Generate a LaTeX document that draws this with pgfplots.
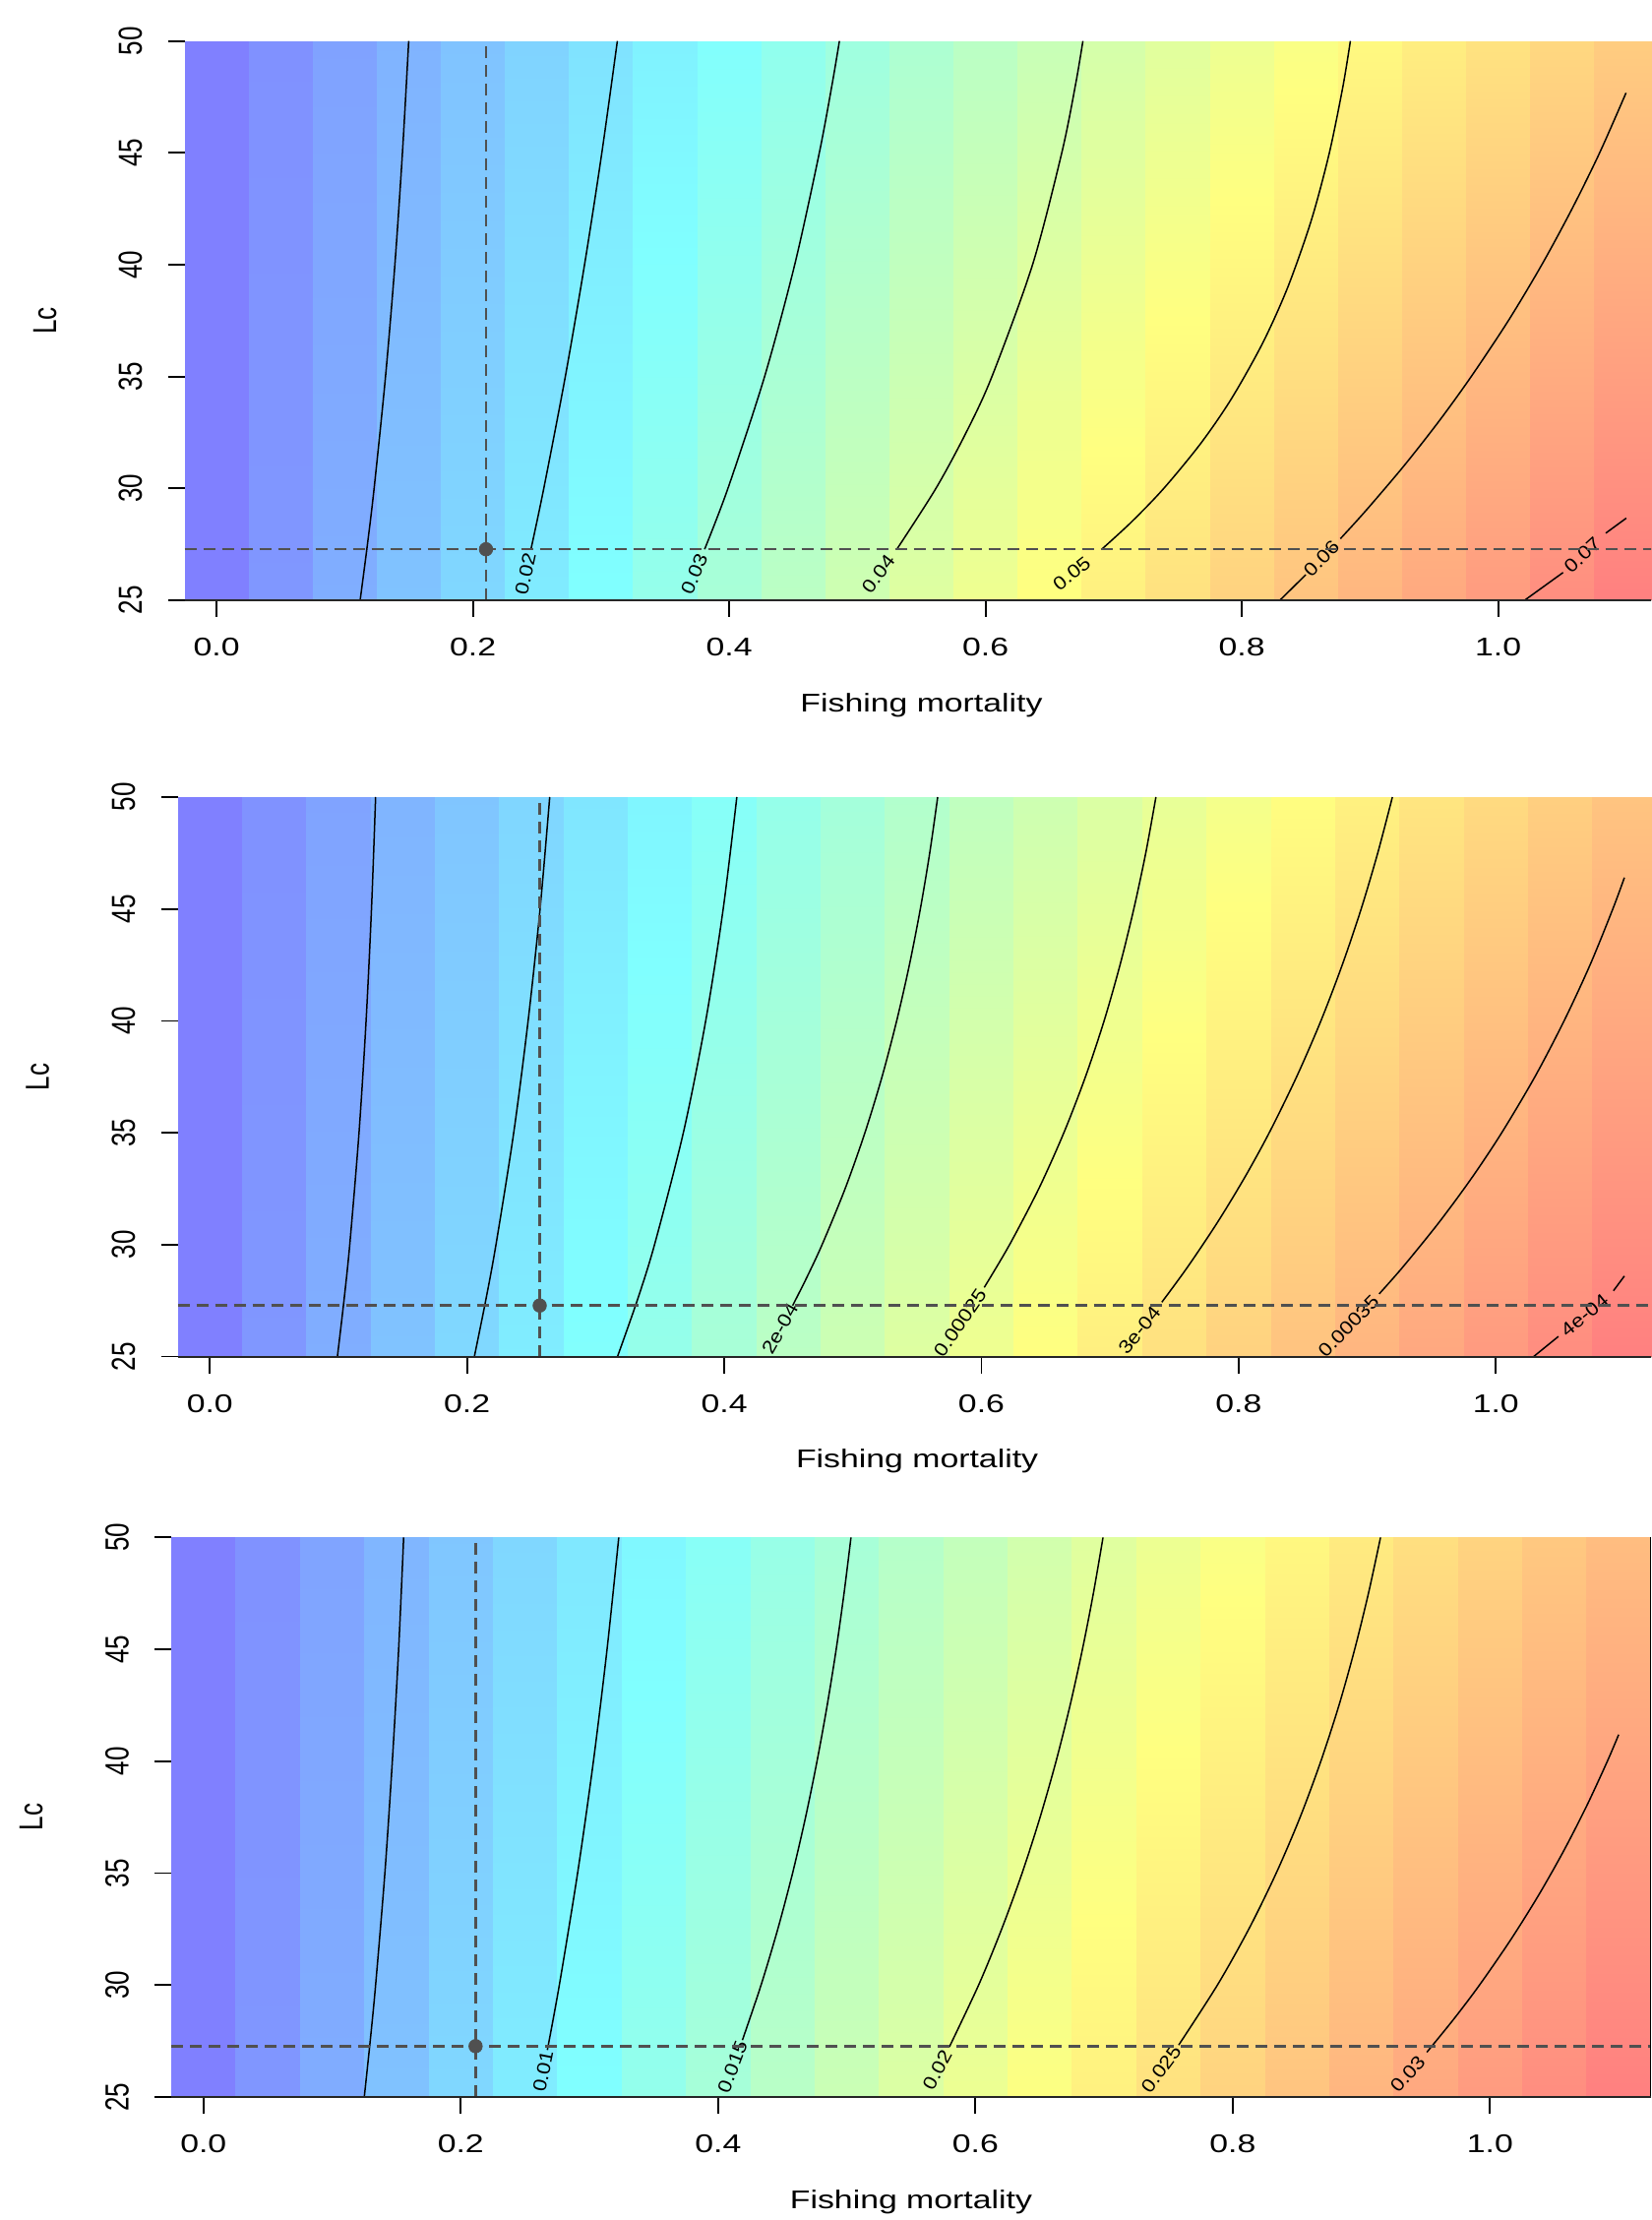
\documentclass[border=0pt]{standalone}
\usepackage{fontspec}
\setmainfont{Liberation Sans}
\newfontfamily\hfont[FakeStretch=1.3]{Liberation Sans}
\newfontfamily\vfont[FakeStretch=0.77]{Liberation Sans}
\newfontfamily\cfont[FakeStretch=1.15]{Liberation Sans}
\usepackage{pgfplots}
\pgfplotsset{compat=1.18}
\definecolor{dg}{HTML}{505050}
\tikzset{clabnode/.style={pos=0.5, sloped, inner sep=0pt, font=\cfont\fontsize{9.5}{9.5}\selectfont}}
\pgfplotsset{
 panel/.style={
  scale only axis, anchor=south west,
  xmin=-0.025, xmax=1.125, ymin=25, ymax=50,
  axis on top,
  axis x line*=bottom, axis y line*=left,
  y axis line style={draw=none},
  x axis line style={line width=1pt, black!85},
  tick align=outside, major tick length=8.5pt,
  tick style={black, line width=0.9pt},
  xtick={0,0.2,0.4,0.6,0.8,1.0},
  xticklabels={0.0,0.2,0.4,0.6,0.8,1.0},
  ytick={25,30,35,40,45,50},
  yticklabels={25,30,35,40,45,50},
  xticklabel style={font=\hfont\fontsize{13}{13}\selectfont, anchor=center, inner sep=0pt, yshift=-15.3pt},
  yticklabel style={font=\vfont\fontsize{16.9}{17}\selectfont, xshift=-19pt, rotate=90, anchor=center, inner sep=0pt},
  xlabel={Fishing mortality},
  xlabel style={font=\hfont\fontsize{13}{15}\selectfont, at={(axis description cs:0.5,-0.1876)}, anchor=center},
  ylabel={Lc},
  ylabel style={font=\vfont\fontsize{16.9}{17}\selectfont, at={(axis description cs:-0.0948,0.5)}, anchor=center},
  colormap={rcm}{rgb255=(128,128,255) rgb255=(128,255,255) rgb255=(255,255,128) rgb255=(255,128,128)},
 },
 heat/.style={surf, shader=interp, mesh/rows=2, mesh/cols=46, point meta=explicit, forget plot},
 cline/.style={black, line width=0.75pt, smooth, tension=0.5, forget plot},
 clab/.style={draw=none, forget plot},
 dline/.style={dg, line width=1.3pt, dash pattern=on 6pt off 3.5pt, forget plot},
 dot/.style={only marks, mark=*, mark size=3.4pt, dg, forget plot},
}
\begin{document}
\begin{tikzpicture}
\useasboundingbox (0,0) rectangle (839pt,1128pt);
\clip (0,0) rectangle (839pt,1128pt);
% ---------------- Panel 1 ----------------
\begin{axis}[panel, at={(93.8pt,823pt)}, width=748.9pt, height=284.15pt,
  point meta min=0, point meta max=74.2]
\addplot[heat] coordinates {
(-0.025,25)[0] (0.025,25)[0]
(0.025,25)[4.46] (0.075,25)[4.46]
(0.075,25)[8.93] (0.125,25)[8.93]
(0.125,25)[13.02] (0.175,25)[13.02]
(0.175,25)[16.98] (0.225,25)[16.98]
(0.225,25)[20.95] (0.275,25)[20.95]
(0.275,25)[24.92] (0.325,25)[24.92]
(0.325,25)[28.89] (0.375,25)[28.89]
(0.375,25)[32.65] (0.425,25)[32.65]
(0.425,25)[36.32] (0.475,25)[36.32]
(0.475,25)[40.0] (0.525,25)[40.0]
(0.525,25)[43.2] (0.575,25)[43.2]
(0.575,25)[46.4] (0.625,25)[46.4]
(0.625,25)[49.6] (0.675,25)[49.6]
(0.675,25)[52.5] (0.725,25)[52.5]
(0.725,25)[55.4] (0.775,25)[55.4]
(0.775,25)[58.3] (0.825,25)[58.3]
(0.825,25)[61.0] (0.875,25)[61.0]
(0.875,25)[63.7] (0.925,25)[63.7]
(0.925,25)[66.3] (0.975,25)[66.3]
(0.975,25)[68.9] (1.025,25)[68.9]
(1.025,25)[71.5] (1.075,25)[71.5]
(1.075,25)[74.2] (1.125,25)[74.2]

(-0.025,50)[0] (0.025,50)[0]
(0.025,50)[3.33] (0.075,50)[3.33]
(0.075,50)[6.65] (0.125,50)[6.65]
(0.125,50)[9.98] (0.175,50)[9.98]
(0.175,50)[13.06] (0.225,50)[13.06]
(0.225,50)[16.14] (0.275,50)[16.14]
(0.275,50)[19.22] (0.325,50)[19.22]
(0.325,50)[22.15] (0.375,50)[22.15]
(0.375,50)[25.04] (0.425,50)[25.04]
(0.425,50)[27.92] (0.475,50)[27.92]
(0.475,50)[30.74] (0.525,50)[30.74]
(0.525,50)[33.37] (0.575,50)[33.37]
(0.575,50)[36.0] (0.625,50)[36.0]
(0.625,50)[38.63] (0.675,50)[38.63]
(0.675,50)[41.15] (0.725,50)[41.15]
(0.725,50)[43.55] (0.775,50)[43.55]
(0.775,50)[45.94] (0.825,50)[45.94]
(0.825,50)[48.34] (0.875,50)[48.34]
(0.875,50)[50.66] (0.925,50)[50.66]
(0.925,50)[52.8] (0.975,50)[52.8]
(0.975,50)[54.95] (1.025,50)[54.95]
(1.025,50)[57.09] (1.075,50)[57.09]
(1.075,50)[59.24] (1.125,50)[59.24]
};
\addplot[cline] coordinates {(0.112,25) (0.1177,27.5) (0.1229,30) (0.1318,35) (0.1391,40) (0.1450,45) (0.1499,50)};
\addplot[cline] coordinates {(0.2453,27.28) (0.2553,30) (0.2721,35) (0.2871,40) (0.3006,45) (0.3127,50)};
\addplot[clab] coordinates {(0.2377,25.3) (0.2444,27.05)} node[clabnode] {0.02};
\addplot[cline] coordinates {(0.3808,27.28) (0.399,30) (0.4276,35) (0.4511,40) (0.4703,45) (0.4804,48.1) (0.486,50)};
\addplot[clab] coordinates {(0.3663,25.3) (0.3792,27.05)} node[clabnode] {0.03};
\addplot[cline] coordinates {(0.5308,27.28) (0.5613,30) (0.5849,32.5) (0.605,35) (0.6367,40) (0.6595,45) (0.6704,48.1) (0.676,50)};
\addplot[clab] coordinates {(0.5049,25.3) (0.5279,27.05)} node[clabnode] {0.04};
\addplot[cline] coordinates {(0.6907,27.28) (0.7139,28.5) (0.7391,30) (0.7678,32) (0.7918,34) (0.8163,36.5) (0.8359,39) (0.8543,42) (0.8683,45) (0.8790,48) (0.8847,50)};
\addplot[clab] coordinates {(0.6484,25.35) (0.686,27.05)} node[clabnode] {0.05};
\addplot[cline] coordinates {(0.8297,25) (0.8499,26.14)};
\addplot[clab] coordinates {(0.8499,26.14) (0.8743,27.59)} node[clabnode] {0.06};
\addplot[cline] coordinates {(0.8769,27.75) (0.8967,29) (0.9264,31) (0.9538,33) (0.979,35) (1.008,37.5) (1.0341,40) (1.0577,42.5) (1.0792,45) (1.0998,47.68)};
\addplot[cline] coordinates {(1.0207,25) (1.0507,26.24)};
\addplot[clab] coordinates {(1.0507,26.24) (1.0807,27.8)} node[clabnode] {0.07};
\addplot[cline] coordinates {(1.084,28.0) (1.1,28.67)};
\addplot[dline] coordinates {(0.2102,25) (0.2102,50)};
\addplot[dline] coordinates {(-0.025,27.28) (1.125,27.28)};
\addplot[dot] coordinates {(0.2102,27.28)};
\end{axis}
% ---------------- Panel 2 ----------------
\begin{axis}[panel, at={(90.3pt,438.7pt)}, width=751.5pt, height=284.3pt,
  point meta min=0, point meta max=4.196]
\addplot[heat] coordinates {
(-0.025,25)[0] (0.025,25)[0]
(0.025,25)[0.252] (0.075,25)[0.252]
(0.075,25)[0.504] (0.125,25)[0.504]
(0.125,25)[0.7385] (0.175,25)[0.7385]
(0.175,25)[0.973] (0.225,25)[0.973]
(0.225,25)[1.199] (0.275,25)[1.199]
(0.275,25)[1.4236] (0.325,25)[1.4236]
(0.325,25)[1.6375] (0.375,25)[1.6375]
(0.375,25)[1.8458] (0.425,25)[1.8458]
(0.425,25)[2.0504] (0.475,25)[2.0504]
(0.475,25)[2.2442] (0.525,25)[2.2442]
(0.525,25)[2.438] (0.575,25)[2.438]
(0.575,25)[2.6214] (0.625,25)[2.6214]
(0.625,25)[2.80] (0.675,25)[2.80]
(0.675,25)[2.9786] (0.725,25)[2.9786]
(0.725,25)[3.141] (0.775,25)[3.141]
(0.775,25)[3.301] (0.825,25)[3.301]
(0.825,25)[3.4615] (0.875,25)[3.4615]
(0.875,25)[3.6135] (0.925,25)[3.6135]
(0.925,25)[3.7628] (0.975,25)[3.7628]
(0.975,25)[3.9122] (1.025,25)[3.9122]
(1.025,25)[4.0572] (1.075,25)[4.0572]
(1.075,25)[4.1961] (1.125,25)[4.1961]

(-0.025,50)[0] (0.025,50)[0]
(0.025,50)[0.194] (0.075,50)[0.194]
(0.075,50)[0.388] (0.125,50)[0.388]
(0.125,50)[0.5779] (0.175,50)[0.5779]
(0.175,50)[0.7626] (0.225,50)[0.7626]
(0.225,50)[0.9472] (0.275,50)[0.9472]
(0.275,50)[1.1228] (0.325,50)[1.1228]
(0.325,50)[1.2947] (0.375,50)[1.2947]
(0.375,50)[1.4667] (0.425,50)[1.4667]
(0.425,50)[1.6289] (0.475,50)[1.6289]
(0.475,50)[1.7889] (0.525,50)[1.7889]
(0.525,50)[1.9488] (0.575,50)[1.9488]
(0.575,50)[2.1002] (0.625,50)[2.1002]
(0.625,50)[2.2475] (0.675,50)[2.2475]
(0.675,50)[2.3948] (0.725,50)[2.3948]
(0.725,50)[2.5389] (0.775,50)[2.5389]
(0.775,50)[2.6748] (0.825,50)[2.6748]
(0.825,50)[2.8108] (0.875,50)[2.8108]
(0.875,50)[2.9467] (0.925,50)[2.9467]
(0.925,50)[3.0749] (0.975,50)[3.0749]
(0.975,50)[3.198] (1.025,50)[3.198]
(1.025,50)[3.3212] (1.075,50)[3.3212]
(1.075,50)[3.4443] (1.125,50)[3.4443]
};
\addplot[cline] coordinates {(0.0992,25) (0.1043,27.5) (0.1088,30) (0.1160,35) (0.1215,40) (0.1257,45) (0.1289,50)};
\addplot[cline] coordinates {(0.2057,25) (0.2145,27.5) (0.2225,30) (0.2363,35) (0.2475,40) (0.2568,45) (0.2643,50)};
\addplot[cline] coordinates {(0.317,25) (0.3323,27.5) (0.3458,30) (0.3682,35) (0.3856,40) (0.3992,45) (0.4098,50)};
\addplot[cline] coordinates {(0.4532,27.28) (0.4639,28.5) (0.4761,30) (0.494,32.5) (0.5094,35) (0.5227,37.5) (0.5341,40) (0.544,42.5) (0.5525,45) (0.5598,47.5) (0.566,50)};
\addplot[clab] coordinates {(0.4356,25.45) (0.4511,27.05)} node[clabnode] {2e-04};
\addplot[cline] coordinates {(0.6022,28.09) (0.6219,30) (0.6446,32.5) (0.6641,35) (0.6809,37.5) (0.6954,40) (0.7078,42.5) (0.7185,45) (0.7278,47.5) (0.7357,50)};
\addplot[clab] coordinates {(0.5689,25.3) (0.5979,27.7)} node[clabnode] {0.00025};
\addplot[cline] coordinates {(0.7403,27.43) (0.7603,29) (0.7836,31) (0.8047,33) (0.8238,35) (0.8451,37.5) (0.864,40) (0.8806,42.5) (0.8953,45) (0.9082,47.5) (0.9196,50)};
\addplot[clab] coordinates {(0.7105,25.3) (0.7353,27.06)} node[clabnode] {3e-04};
\addplot[cline] coordinates {(0.9093,27.8) (0.9277,29) (0.9559,31) (0.9815,33) (1.0046,35) (1.0304,37.5) (1.0531,40) (1.0733,42.5) (1.091,45) (1.1,46.4)};
\addplot[clab] coordinates {(0.8674,25.3) (0.9035,27.43)} node[clabnode] {0.00035};
\addplot[cline] coordinates {(1.0294,25) (1.0487,25.9)};
\addplot[clab] coordinates {(1.0487,25.9) (1.0893,27.8)} node[clabnode] {4e-04};
\addplot[cline] coordinates {(1.0915,27.94) (1.1,28.6)};
\addplot[dline] coordinates {(0.2565,25) (0.2565,50)};
\addplot[dline] coordinates {(-0.025,27.28) (1.125,27.28)};
\addplot[dot] coordinates {(0.2565,27.28)};
\end{axis}
% ---------------- Panel 3 ----------------
\begin{axis}[panel, at={(87.05pt,62.5pt)}, width=751.85pt, height=284.3pt,
  point meta min=0, point meta max=34.286]
\addplot[heat] coordinates {
(-0.025,25)[0] (0.025,25)[0]
(0.025,25)[2.0] (0.075,25)[2.0]
(0.075,25)[4.0] (0.125,25)[4.0]
(0.125,25)[5.954] (0.175,25)[5.954]
(0.175,25)[7.863] (0.225,25)[7.863]
(0.225,25)[9.771] (0.275,25)[9.771]
(0.275,25)[11.507] (0.325,25)[11.507]
(0.325,25)[13.219] (0.375,25)[13.219]
(0.375,25)[14.932] (0.425,25)[14.932]
(0.425,25)[16.529] (0.475,25)[16.529]
(0.475,25)[18.121] (0.525,25)[18.121]
(0.525,25)[19.713] (0.575,25)[19.713]
(0.575,25)[21.213] (0.625,25)[21.213]
(0.625,25)[22.692] (0.675,25)[22.692]
(0.675,25)[24.172] (0.725,25)[24.172]
(0.725,25)[25.573] (0.775,25)[25.573]
(0.775,25)[26.875] (0.825,25)[26.875]
(0.825,25)[28.177] (0.875,25)[28.177]
(0.875,25)[29.479] (0.925,25)[29.479]
(0.925,25)[30.714] (0.975,25)[30.714]
(0.975,25)[31.905] (1.025,25)[31.905]
(1.025,25)[33.095] (1.075,25)[33.095]
(1.075,25)[34.286] (1.125,25)[34.286]

(-0.025,50)[0] (0.025,50)[0]
(0.025,50)[1.607] (0.075,50)[1.607]
(0.075,50)[3.213] (0.125,50)[3.213]
(0.125,50)[4.820] (0.175,50)[4.820]
(0.175,50)[6.328] (0.225,50)[6.328]
(0.225,50)[7.823] (0.275,50)[7.823]
(0.275,50)[9.318] (0.325,50)[9.318]
(0.325,50)[10.753] (0.375,50)[10.753]
(0.375,50)[12.139] (0.425,50)[12.139]
(0.425,50)[13.524] (0.475,50)[13.524]
(0.475,50)[14.909] (0.525,50)[14.909]
(0.525,50)[16.192] (0.575,50)[16.192]
(0.575,50)[17.468] (0.625,50)[17.468]
(0.625,50)[18.744] (0.675,50)[18.744]
(0.675,50)[20.019] (0.725,50)[20.019]
(0.725,50)[21.178] (0.775,50)[21.178]
(0.775,50)[22.337] (0.825,50)[22.337]
(0.825,50)[23.496] (0.875,50)[23.496]
(0.875,50)[24.655] (0.925,50)[24.655]
(0.925,50)[25.716] (0.975,50)[25.716]
(0.975,50)[26.737] (1.025,50)[26.737]
(1.025,50)[27.757] (1.075,50)[27.757]
(1.075,50)[28.778] (1.125,50)[28.778]
};
\addplot[cline] coordinates {(0.125,25) (0.1296,27.5) (0.1338,30) (0.141,35) (0.1468,40) (0.1517,45) (0.1556,50)};
\addplot[cline] coordinates {(0.2673,27.1) (0.2766,30) (0.2908,35) (0.3031,40) (0.3137,45) (0.3228,50)};
\addplot[clab] coordinates {(0.2614,25.4) (0.2666,26.9)} node[clabnode] {0.01};
\addplot[cline] coordinates {(0.4189,27.54) (0.4334,30) (0.4464,32.5) (0.4579,35) (0.468,37.5) (0.4769,40) (0.4848,42.5) (0.4918,45) (0.4979,47.5) (0.5033,50)};
\addplot[clab] coordinates {(0.4052,25.45) (0.4171,27.25)} node[clabnode] {0.015};
\addplot[cline] coordinates {(0.5798,27.24) (0.6025,30) (0.6204,32.5) (0.6363,35) (0.6503,37.5) (0.6627,40) (0.6736,42.5) (0.6832,45) (0.6917,47.5) (0.6992,50)};
\addplot[clab] coordinates {(0.5634,25.45) (0.5773,26.95)} node[clabnode] {0.02};
\addplot[cline] coordinates {(0.758,27.32) (0.7881,30) (0.8125,32.5) (0.8338,35) (0.8524,37.5) (0.8685,40) (0.8826,42.5) (0.8948,45) (0.9055,47.5) (0.9149,50)};
\addplot[clab] coordinates {(0.7341,25.45) (0.7547,27.05)} node[clabnode] {0.025};
\addplot[cline] coordinates {(0.9509,27.0) (0.9721,28.5) (0.9918,30) (1.0158,32) (1.0376,34) (1.0573,36) (1.0751,38) (1.0912,40) (1.1,41.19)};
\addplot[clab] coordinates {(0.9248,25.3) (0.9472,26.75)} node[clabnode] {0.03};
\addplot[dline] coordinates {(0.2115,25) (0.2115,50)};
\addplot[dline] coordinates {(-0.025,27.27) (1.125,27.27)};
\addplot[dot] coordinates {(0.2115,27.27)};
\draw[black, line width=1pt] (rel axis cs:1,0) -- (rel axis cs:1,1);
\end{axis}
\end{tikzpicture}
\end{document}
